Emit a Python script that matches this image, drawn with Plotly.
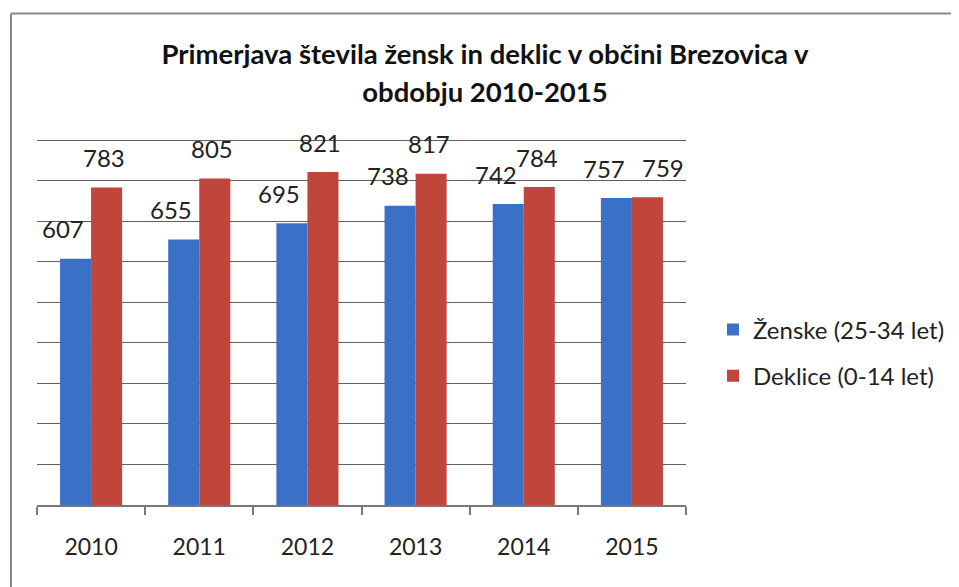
import plotly.graph_objects as go

years = ["2010", "2011", "2012", "2013", "2014", "2015"]
zenske = [607, 655, 695, 738, 742, 757]
deklice = [783, 805, 821, 817, 784, 759]
series_names = ["Ženske (25-34 let)", "Deklice (0-14 let)"]
title_lines = ["Primerjava števila žensk in deklic v občini Brezovica v", "obdobju 2010-2015"]

BLUE = "#3A70C6"
RED = "#C0453A"
FONT = "Lato, 'Open Sans', sans-serif"

# figure sized for the page's default 8px body margin
W, H = 951, 579
YMAX = 910
PL, PR, PB = 29, 678, 497           # plot area in figure pixels
PT = PB - round(365 * YMAX / 900)
PW, PH = PR - PL, PB - PT

fig = go.Figure()
fig.add_trace(go.Bar(x=years, y=zenske, name=series_names[0], marker_color=BLUE,
                     marker_line_width=0, legendgroup="a"))
fig.add_trace(go.Bar(x=years, y=deklice, name=series_names[1], marker_color=RED,
                     marker_line_width=0, legendgroup="b"))

annotations = []
for i, (z, d) in enumerate(zip(zenske, deklice)):
    close = abs(z - d) < 40   # labels at the same height: push them apart
    annotations.append(dict(x=i, y=z, xref="x", yref="y", text=str(z), showarrow=False,
                            xanchor="center", xshift=-28, yshift=30,
                            font=dict(family=FONT, size=24, color="#222")))
    annotations.append(dict(x=i, y=d, xref="x", yref="y", text=str(d), showarrow=False,
                            xanchor="center", xshift=31 if close else 13, yshift=30,
                            font=dict(family=FONT, size=24, color="#222")))

fig.update_layout(
    width=W, height=H,
    margin=dict(l=PL, r=W - PR, t=PT, b=H - PB, autoexpand=False),
    paper_bgcolor="white", plot_bgcolor="white",
    barmode="group", bargap=0.426, bargroupgap=0,
    title=dict(text="<span style='font-size:27.5px'>" + title_lines[0] + "<br>" + title_lines[1] + "</span>",
               x=477 / W, xanchor="center", xref="container",
               y=1 - 56 / H, yanchor="middle", yref="container",
               font=dict(family=FONT, size=29, color="#111", weight="bold")),
    font=dict(family=FONT, color="#222"),
    showlegend=True,
    legend=dict(x=(705 - PL) / PW, xanchor="left", y=(PB - 345) / PH, yanchor="middle",
                font=dict(family=FONT, size=24, color="#222"),
                traceorder="grouped", tracegroupgap=12, bgcolor="rgba(0,0,0,0)"),
    xaxis=dict(type="category", range=[-0.5, len(years) - 0.5], showline=True, linecolor="#777",
               linewidth=1.5, ticks="outside",
               tickson="boundaries", ticklen=8, tickcolor="#777", tickwidth=1.5,
               ticklabelstandoff=21,
               tickfont=dict(family=FONT, size=23, color="#222"), showgrid=False),
    yaxis=dict(range=[0, YMAX], dtick=100, showgrid=True, gridcolor="#606060", gridwidth=1.3,
               showticklabels=False, zeroline=False, showline=False, ticks=""),
    annotations=annotations,
    shapes=[
        dict(type="line", xref="paper", yref="paper", x0=(3 - PL) / PW, x1=(W - PL) / PW,
             y0=(PB - 5.5) / PH, y1=(PB - 5.5) / PH, line=dict(color="#888", width=2)),
        dict(type="line", xref="paper", yref="paper", x0=(3 - PL) / PW, x1=(3 - PL) / PW,
             y0=(PB - 5.5) / PH, y1=(PB - H - 5) / PH, line=dict(color="#888", width=2)),
    ],
)

fig.write_html("out.html")
